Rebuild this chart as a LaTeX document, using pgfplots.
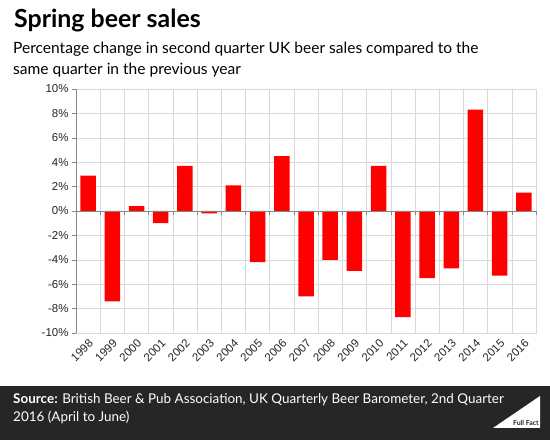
\documentclass[border=0pt]{standalone}
\usepackage{fontspec}
\setmainfont{Lato}
\newfontfamily\tickfont{Liberation Sans}
\usepackage{pgfplots}
\usepackage{pgfplotstable}
\pgfplotsset{compat=1.18}

\definecolor{barred}{HTML}{FF0000}
\definecolor{footer}{HTML}{262626}
\definecolor{gridgray}{HTML}{D9D9D9}
\definecolor{axisgray}{HTML}{868686}

% change in Q2 beer sales vs same quarter previous year (%)
\pgfplotstableread{
x year val
0 1998 2.9
1 1999 -7.4
2 2000 0.4
3 2001 -1.0
4 2002 3.7
5 2003 -0.2
6 2004 2.1
7 2005 -4.2
8 2006 4.5
9 2007 -7.0
10 2008 -4.0
11 2009 -4.9
12 2010 3.7
13 2011 -8.7
14 2012 -5.5
15 2013 -4.7
16 2014 8.3
17 2015 -5.3
18 2016 1.5
}\beer

\begin{document}
\begin{tikzpicture}[x=1bp,y=1bp]
\fill[white] (0,0) rectangle (550,440);
\fill[footer] (0,0) rectangle (550,54);

\node[anchor=base west, inner sep=0, font=\fontsize{25}{28}\selectfont\bfseries] at (14,412.5) {Spring beer sales};
\node[anchor=base west, inner sep=0, font=\fontsize{15.6}{20}\selectfont] at (13,386.5)
  {Percentage change in second quarter UK beer sales compared to the};
\node[anchor=base west, inner sep=0, font=\fontsize{15.6}{20}\selectfont] at (13,365.5)
  {same quarter in the previous year};

\begin{axis}[
  at={(76bp,107bp)}, anchor=south west,
  scale only axis, width=460bp, height=244bp,
  ybar, bar width=15.5bp, bar shift=0pt,
  xmin=-0.5, xmax=18.5, ymin=-10, ymax=10,
  axis line style={draw=gridgray},
  xtick={0,...,18},
  xticklabels from table={\beer}{year},
  xtick style={draw=none},
  minor xtick={-0.5,0.5,...,18.5},
  minor tick length=0pt,
  xminorgrids, minor grid style={gridgray},
  ytick={-10,-8,...,10},
  yticklabels={-10\%,-8\%,-6\%,-4\%,-2\%,0\%,2\%,4\%,6\%,8\%,10\%},
  ytick style={axisgray},
  ytick pos=left, tick align=outside, major tick length=4bp,
  ymajorgrids, major grid style={gridgray},
  y tick label style={font=\tickfont\fontsize{11.5}{12}\selectfont, text=black!85},
  x tick label style={font=\tickfont\fontsize{11.5}{12}\selectfont, text=black!85,
    rotate=45, anchor=north east, inner sep=1bp},
  clip=false,
]
\addplot[fill=barred, draw=none] table[x=x, y=val] {\beer};
\draw[axisgray] (rel axis cs:0,0) -- (rel axis cs:0,1);
\draw[axisgray] (axis cs:-0.5,0) -- (axis cs:18.5,0);
\pgfplotsinvokeforeach{0.5,1.5,...,18.5}{
  \draw[axisgray] (axis cs:#1,0) -- ([yshift=-4bp]axis cs:#1,0);
}
\end{axis}

\node[anchor=base west, inner sep=0, text=white, font=\fontsize{13.5}{16}\selectfont] at (13,36)
  {\textbf{Source:} British Beer \& Pub Association, UK Quarterly Beer Barometer, 2nd Quarter};
\node[anchor=base west, inner sep=0, text=white, font=\fontsize{13.5}{16}\selectfont] at (13,18.5)
  {2016 (April to June)};
\fill[white] (493,12) -- (540,44) -- (540,12) -- cycle;
\node[anchor=base east, inner sep=0, text=footer, font=\fontsize{7}{8}\selectfont\bfseries] at (539,14) {Full Fact};
\end{tikzpicture}
\end{document}
